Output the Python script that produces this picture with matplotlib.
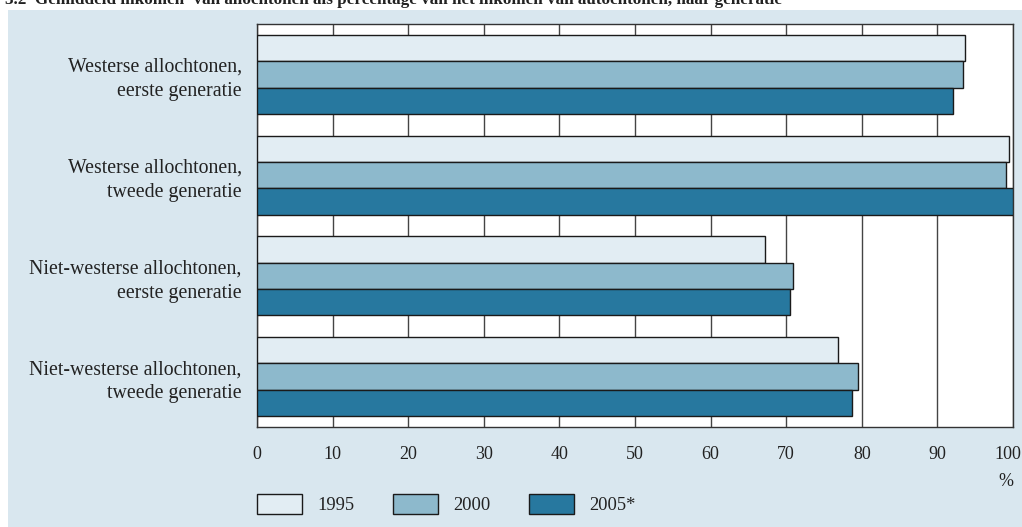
import numpy as np
import matplotlib.pyplot as plt
from matplotlib.patches import Rectangle
from matplotlib.transforms import ScaledTranslation

# Data
categories = ['Westerse allochtonen,\neerste generatie',
              'Westerse allochtonen,\ntweede generatie',
              'Niet-westerse allochtonen,\neerste generatie',
              'Niet-westerse allochtonen,\ntweede generatie']
years = ['1995', '2000', '2005*']
values_1995 = [93.6, 99.5, 67.2, 76.8]
values_2000 = [93.4, 99.1, 70.9, 79.5]
values_2005 = [92.1, 100.0, 70.5, 78.7]
series = [values_1995, values_2000, values_2005]
colors = ['#e2edf3', '#8db9cc', '#27789f']
xticks = list(range(0, 101, 10))

title = ('3.2  Gemiddeld inkomen\u00b9 van allochtonen als percentage '
         'van het inkomen van autochtonen, naar generatie')

plt.rcParams['font.family'] = ['Liberation Serif', 'DejaVu Serif']
text_color = '#222222'

fig = plt.figure(figsize=(10.22, 5.27), dpi=100)
fig.patch.set_facecolor('white')

# light blue panel behind the chart
fig.patches.append(Rectangle((8 / 1022, 0), 1 - 8 / 1022, 1 - 10 / 527,
                             transform=fig.transFigure, facecolor='#d9e7ef',
                             edgecolor='none', zorder=0))

# title, cut off at the top as in the source
fig.text(5 / 1022, 1 - 4 / 527, title, ha='left', va='baseline',
         fontsize=12.3, fontweight='bold', color=text_color)

ax = fig.add_axes([257 / 1022, 1 - 427 / 527, 756 / 1022, 403 / 527])
ax.set_zorder(2)
ax.set_facecolor('white')

y = np.arange(len(categories))
h = 0.262
for i, (vals, col, lab) in enumerate(zip(series, colors, years)):
    ax.barh(y + (i - 1) * h, vals, height=h, color=col, edgecolor='#1a1a1a',
            linewidth=1, label=lab, zorder=3)

ax.set_xlim(0, 100)
ax.set_ylim(3.5, -0.5)
ax.set_xticks(xticks)
ax.set_yticks(y)
ax.set_yticklabels(categories, fontsize=14.3, color=text_color,
                   linespacing=1.38)
ax.tick_params(axis='both', length=0, colors=text_color)
ax.tick_params(axis='x', pad=14, labelsize=13)
ax.tick_params(axis='y', pad=11)
ax.grid(axis='x', color='#444444', linewidth=1, zorder=1)
for s in ax.spines.values():
    s.set_color('#333333')
    s.set_linewidth(1)

# the "100" label sits a little left of its gridline, as in the source
last = ax.get_xticklabels()[-1]
last.set_transform(last.get_transform()
                   + ScaledTranslation(-5 / 100, 0, fig.dpi_scale_trans))

ax.set_xlabel('%', loc='right', fontsize=13, color=text_color, labelpad=7)

leg = fig.legend(loc='upper left', bbox_to_anchor=(257 / 1022, 1 - 494 / 527),
                 ncol=3, frameon=False, fontsize=13.3, handlelength=2.45,
                 handleheight=1.3, handletextpad=0.8, columnspacing=2.1,
                 borderpad=0, borderaxespad=0, labelcolor=text_color)
leg.set_zorder(3)

fig.savefig('out.png', dpi=100, facecolor=fig.get_facecolor())
